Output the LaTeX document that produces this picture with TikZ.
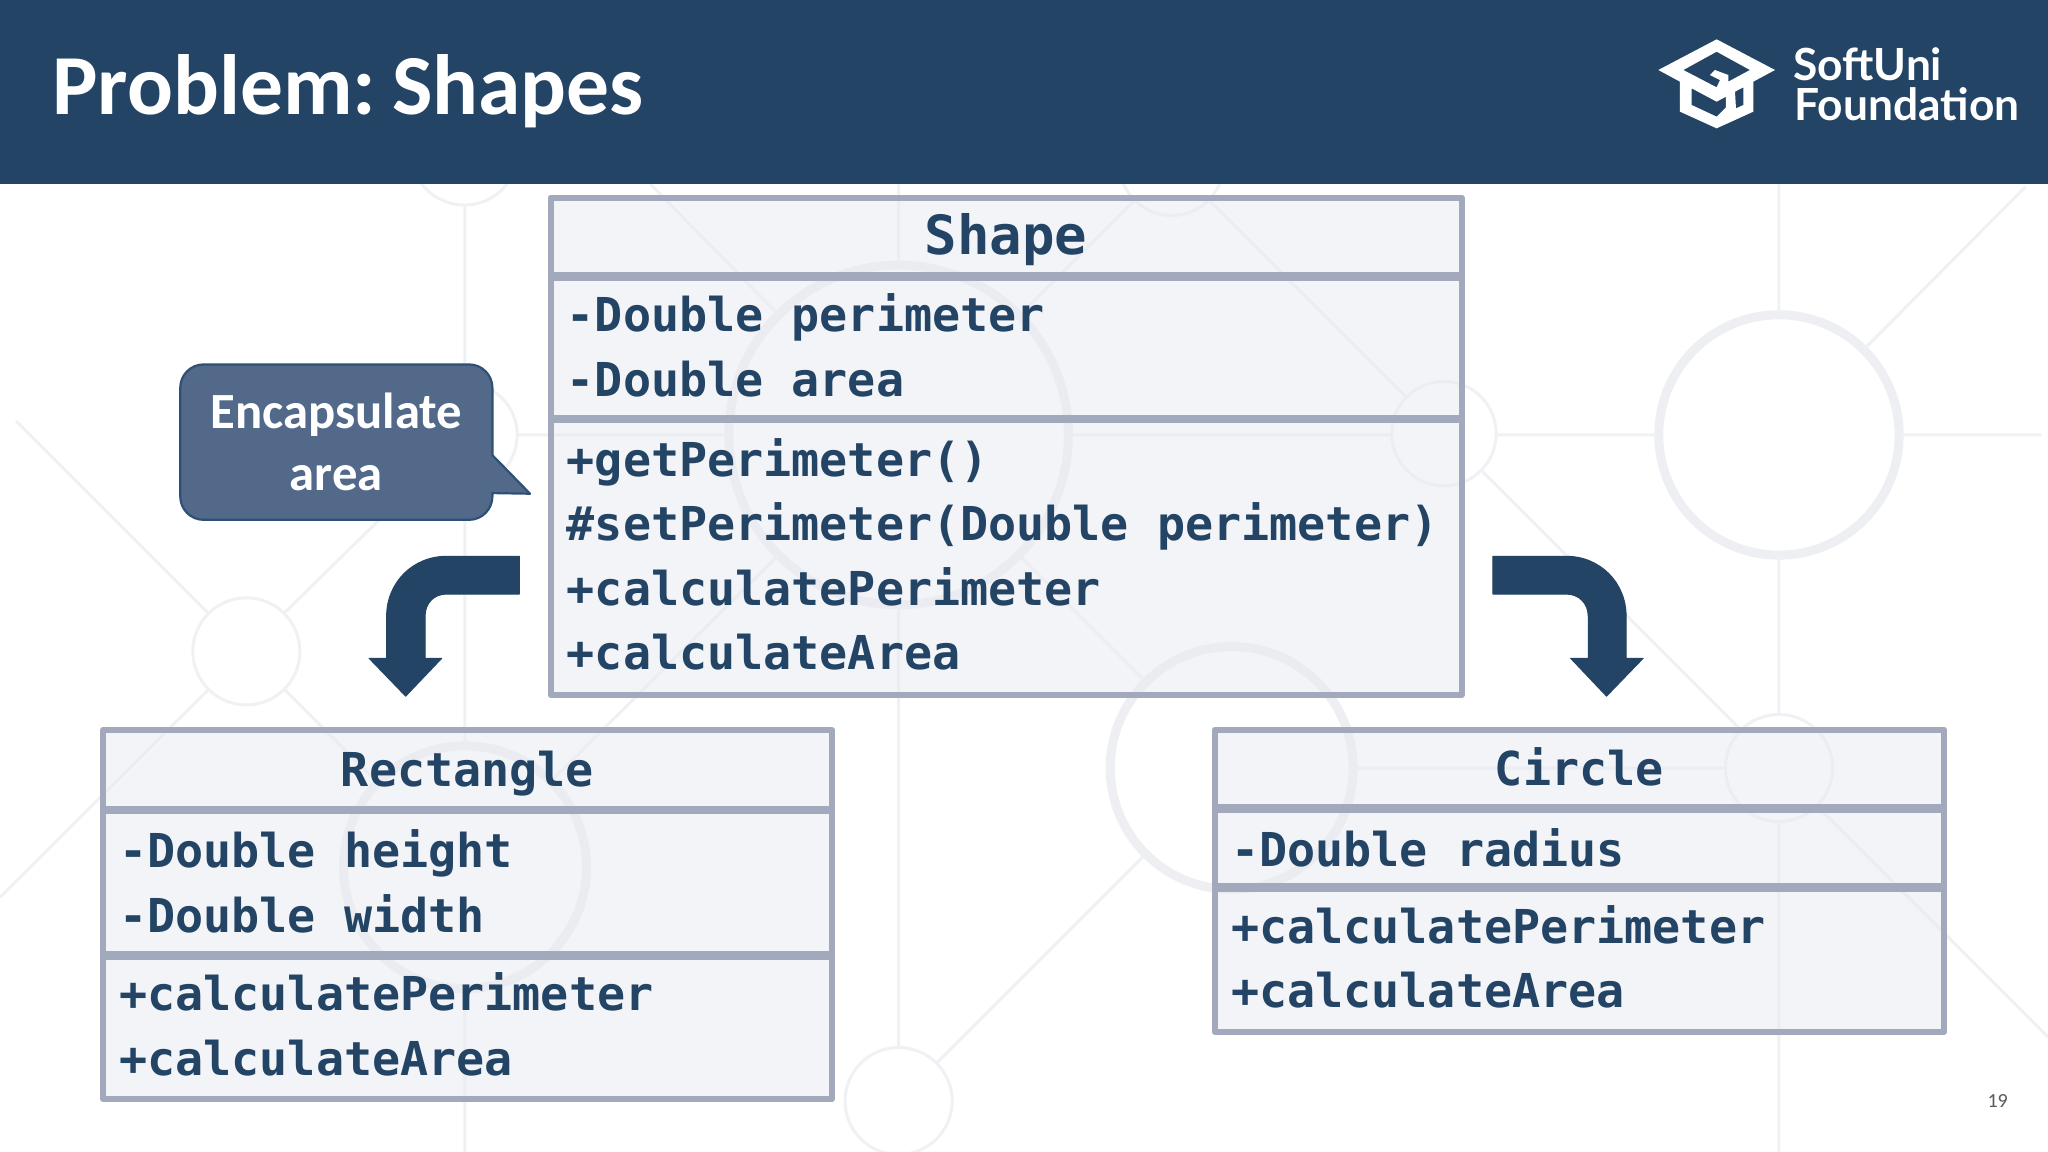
\documentclass[tikz,border=0pt]{standalone}
\usepackage{fontspec}
\setmainfont{Carlito}
\newfontfamily\monof{DejaVu Sans Mono}
\newfontfamily\latof{Lato}
\newfontfamily\titlef[WordSpace=0.5]{Carlito}
\definecolor{navy}{HTML}{234465}
\definecolor{boxline}{HTML}{A3A9BD}
\definecolor{cellfill}{HTML}{E8EBF1}
\definecolor{wm}{HTML}{EEEFF2}
\definecolor{wmlight}{HTML}{EFF1F4}
\definecolor{callfill}{HTML}{52698A}
\definecolor{callline}{HTML}{2F5075}
\tikzset{
  wmthin/.style={draw=wmlight,line width=3pt},
  wmthick/.style={draw=wm,line width=9pt},
  cell/.style={draw=boxline,line width=6pt,line join=round,outer sep=0pt,fill=cellfill,fill opacity=.55,text opacity=1,text=navy,
    anchor=north west,inner ysep=0pt,inner xsep=16.3pt,align=left,
    execute at begin node={\spaceskip=0pt\relax},
    font=\monof\bfseries\fontsize{46.7}{64.4}\selectfont},
  headcell/.style={cell,align=center,text depth=0pt},
  divider/.style={draw=boxline,line width=8.6pt},
  blockarrow/.style={fill=navy,draw=navy,line width=1pt,line join=round},
}
\begin{document}
\begin{tikzpicture}[x=1.30612pt,y=-1.30612pt]
\useasboundingbox (0,0) rectangle (1568,881.92);
\fill[white] (0,0) rectangle (1568,881.92);
% watermark
\foreach \x/\y/\r in {1105.5/332/40,188.6/498.7/41,1362/588/41,688/843/41,355.5/116/41,897/125/40,356/333/40}
  \draw[wmthin] (\x,\y) circle (\r);
\foreach \x/\y/\r in {688/333/130,1362/333/92,943/588/93,356/664/93}
  \draw[wmthick] (\x,\y) circle (\r);
\draw[wmthin] (356,157)--(356,293) (356,373)--(356,571) (356,757)--(356,882)
  (688,141)--(688,203) (688,463)--(688,802)
  (1362,141)--(1362,241) (1362,425)--(1362,547) (1362,629)--(1362,882)
  (396,333)--(558,333) (818,333)--(1065.5,333) (1145.5,333)--(1270,333) (1454,333)--(1562.7,333)
  (1033,588)--(1321,588)
  (12.3,322.4)--(160,470) (217,470)--(327,362) (0,687)--(159,528.5) (218,528)--(290,600)
  (498,141)--(597,242) (926,153.6)--(1076,303.5) (1135,361)--(1333,559) (1427.6,267)--(1550.8,143)
  (1391,617)--(1568,794) (717,814)--(876,655) (780,425)--(877,522) (785,237)--(868,154)
  (422,598)--(596,425);
% header
\fill[navy] (0,0) rectangle (1568,141);
\node[anchor=base west,inner sep=0,text=white,font=\titlef\bfseries\fontsize{85.5}{85.5}\selectfont] (title) at (40,88) {Problem: Shapes};
% logo
\begin{scope}[x=.33333pt,y=-.33333pt,shift={(4800,0)}]
\fill[white,even odd rule]
 (175,210)--(350,118)--(525,210)--(460,245)--(460,335)--(350,385)--(240,335)--(240,245)--cycle
 (250,210)--(350,155)--(450,210)--(385,245)--(385,225)--(345,210)--(330,225)--(360,240)--(350,262)--cycle
 (275,265)--(350,305)--(378,290)--(378,322)--(350,350)--(275,315)--cycle
 (405,275)--(430,262)--(430,315)--(408,325)--cycle;
\end{scope}
\node[anchor=base west,inner sep=0,text=white,font=\latof\bfseries\fontsize{44.3}{44.3}\selectfont] (logoa) at (1373,61.5) {SoftUni};
\node[anchor=base west,inner sep=0,text=white,font=\latof\bfseries\fontsize{44.3}{44.3}\selectfont] (logob) at (1374,92.5) {Foundation};
% Shape
\node[headcell,text width=878.4pt,text height=34pt,minimum height=79pt,font=\monof\bfseries\fontsize{54}{64.4}\selectfont] (shapeh) at (421.5,151.3) {Shape};
\node[cell,text width=878.4pt,minimum height=142.4pt,text depth=70.4pt] (shapea) at (421.5,211.8) {-Double perimeter\\-Double area};
\node[cell,text width=878.4pt,minimum height=276pt,text depth=199.2pt] (shapem) at (421.5,320.8) {+getPerimeter()\\\#setPerimeter(Double perimeter)\\+calculatePerimeter\\+calculateArea};
\draw[divider] (shapea.north west)--(shapea.north east) (shapem.north west)--(shapem.north east);
% Rectangle
\node[headcell,text width=696.4pt,text height=33.4pt,minimum height=79.4pt] (recth) at (78.8,559.2) {Rectangle};
\node[cell,text width=696.4pt,minimum height=145.6pt,text depth=67.4pt] (recta) at (78.8,620) {-Double height\\-Double width};
\node[cell,text width=696.4pt,minimum height=143.7pt,text depth=70.4pt] (rectm) at (78.8,731.4) {+calculatePerimeter\\+calculateArea};
\draw[divider] (recta.north west)--(recta.north east) (rectm.north west)--(rectm.north east);
% Circle
\node[headcell,text width=696.4pt,text height=33.4pt,minimum height=79pt] (circh) at (930.1,558.7) {Circle};
\node[cell,text width=696.4pt,minimum height=78.8pt,text height=38pt] (circa) at (930.1,619) {-Double radius};
\node[cell,text width=696.4pt,minimum height=144.5pt,text depth=70.4pt] (circm) at (930.1,679.5) {+calculatePerimeter\\+calculateArea};
\draw[divider] (circa.north west)--(circa.north east) (circm.north west)--(circm.north east);
% callout
\draw[fill=callfill,draw=callline,line width=2.2pt,line join=round]
 (156,279)--(359,279) .. controls (369,279) and (377,287) .. (377,297) -- (377,348.5) -- (405.8,378) -- (377,377.5) -- (377,380)
 .. controls (377,390) and (369,398) .. (359,398) -- (156,398) .. controls (146,398) and (138,390) .. (138,380) -- (138,297) .. controls (138,287) and (146,279) .. (156,279) -- cycle;
\node[anchor=base,inner sep=0,text=white,font=\bfseries\fontsize{50.7}{50.7}\selectfont] (calla) at (257.4,328) {Encapsulate};
\node[anchor=base,inner sep=0,text=white,font=\bfseries\fontsize{50.7}{50.7}\selectfont] (callb) at (257.4,375.3) {area};
% block arrows
\draw[blockarrow] (397.6,425.9)--(342,425.9) .. controls (316,425.9) and (296,446) .. (296,472) -- (296,504)--(282.6,504)--(310.6,533)--(338.2,504)--(325.4,504)--(325.4,472) .. controls (325.4,462) and (332,454.8) .. (342,454.8) -- (397.6,454.8)--cycle;
\draw[blockarrow] (1143,425.9)--(1199,425.9) .. controls (1225,425.9) and (1245,446) .. (1245,472) -- (1245,504)--(1258,504)--(1230,533)--(1202.5,504)--(1216,504)--(1216,472) .. controls (1216,462) and (1209,454.8) .. (1199,454.8) -- (1143,454.8)--cycle;
% page number
\node[inner sep=0,text=black!65,font=\fontsize{20}{20}\selectfont] (pagenum) at (1529.5,843) {19};
\end{tikzpicture}
\end{document}
